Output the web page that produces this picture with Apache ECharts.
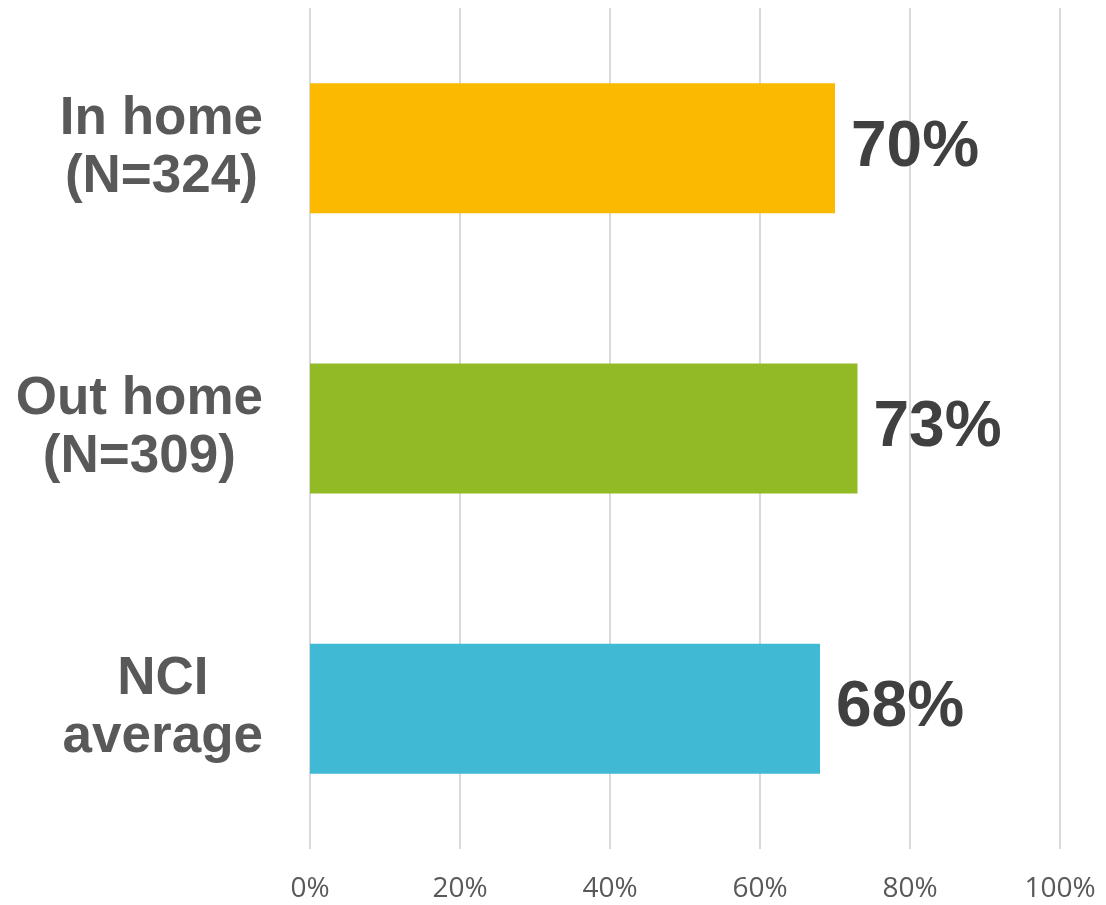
<!DOCTYPE html>
<html>
<head>
<meta charset="utf-8">
<script src="https://cdn.jsdelivr.net/npm/echarts@6/dist/echarts.min.js"></script>
<style>
  html, body { margin: 0; padding: 0; background: #fff; }
  #chart { width: 1106px; height: 905px; }
</style>
</head>
<body>
<div id="chart"></div>
<script>
var categories = ['In home\n(N=324)', 'Out home\n(N=309)', 'NCI\naverage'];
var values = [70, 73, 68];
var barColors = ['#FBB900', '#92BA25', '#40B9D4'];
var xTicks = [0, 20, 40, 60, 80, 100];

var chart = echarts.init(document.getElementById('chart'));

chart.setOption({
    animation: false,
    grid: { left: 310, right: 46, top: 8, bottom: 56 },
    xAxis: {
        type: 'value',
        min: xTicks[0],
        max: xTicks[xTicks.length - 1],
        interval: 20,
        axisLine: { show: false },
        axisTick: { show: false },
        splitLine: { lineStyle: { color: '#d9d9d9', width: 2 } },
        axisLabel: {
            formatter: '{value}%',
            color: '#595959',
            fontSize: 28,
            fontFamily: 'Open Sans',
            margin: 26
        }
    },
    yAxis: {
        type: 'category',
        inverse: true,
        data: categories,
        axisLine: { show: false },
        axisTick: { show: false },
        axisLabel: {
            // lines centred inside a right-aligned block, like the original
            formatter: function (v) {
                return v.split('\n').map(function (s) { return '{c|' + s + '}'; }).join('\n');
            },
            align: 'right',
            margin: 47,
            rich: {
                c: {
                    align: 'center',
                    color: '#595959',
                    fontSize: 53,
                    fontWeight: 'bold',
                    fontFamily: 'Liberation Sans',
                    lineHeight: 58
                }
            }
        }
    },
    series: [{
        type: 'bar',
        barWidth: 130,
        data: values.map(function (v, i) {
            return { value: v, itemStyle: { color: barColors[i] } };
        }),
        label: {
            show: true,
            position: 'right',
            distance: 16,
            formatter: '{c}%',
            color: '#404040',
            fontSize: 64,
            fontWeight: 'bold',
            fontFamily: 'Liberation Sans'
        }
    }]
});
</script>
</body>
</html>
